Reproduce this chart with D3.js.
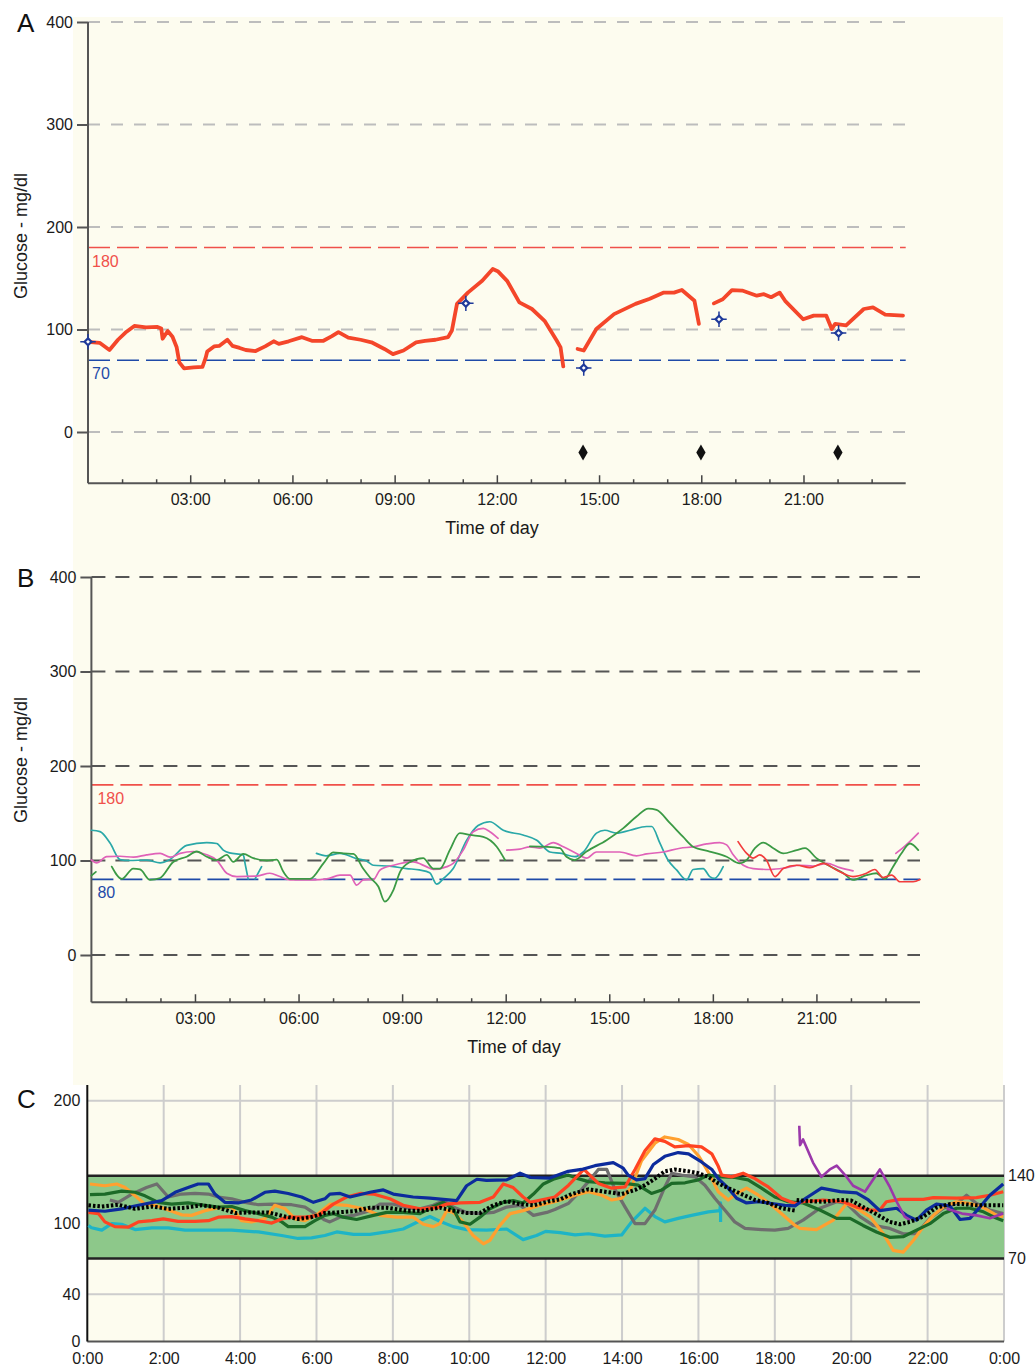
<!DOCTYPE html>
<html><head><meta charset="utf-8">
<script src="https://cdn.jsdelivr.net/npm/d3@7"></script>
<style>
body{margin:0;background:#fff}
svg{display:block;font-family:"Liberation Sans",Arial,sans-serif}
</style>
</head><body>
<svg id="chart" width="1035" height="1367"></svg>
<script>
// ---------------- DATA ----------------
// Panel A : single-day CGM trace [hour, mg/dl]
const cgmA1 = [[0,88],[0.34,87],[0.63,80],[0.88,90],[1.1,97],[1.36,103.5],[1.7,102],[2.04,102.5],[2.15,101],[2.19,91],[2.34,98.5],[2.48,93],[2.6,83],[2.68,68],[2.82,62],[3.1,63],[3.36,63.5],[3.45,72],[3.5,78.5],[3.7,83.5],[3.85,84],[4.09,90],[4.24,84],[4.45,82],[4.63,80],[4.92,79],[5.2,83.5],[5.45,88.5],[5.6,86],[5.89,88.5],[6.28,92.5],[6.57,89],[6.91,89],[7.16,93.5],[7.35,97.5],[7.64,92],[8.0,90],[8.32,87.5],[8.7,81],[8.95,76],[9.26,79.5],[9.63,87.5],[9.89,89],[10.2,90],[10.57,92.5],[10.68,99],[10.83,125],[11.15,136],[11.57,147.5],[11.88,159],[12.04,156.5],[12.3,147.5],[12.66,126.5],[13.03,120],[13.4,108.5],[13.76,89],[13.87,82.5],[13.95,64]];
const cgmA2 = [[14.37,81],[14.55,79.5],[14.92,100.5],[15.44,115],[16.07,125],[16.49,130],[16.9,136],[17.2,136],[17.43,138.5],[17.8,128],[17.93,105.5]];
const cgmA3 = [[18.37,125.5],[18.63,129.5],[18.9,138.5],[19.2,138],[19.63,133],[19.84,134.5],[20.05,131.5],[20.3,136],[20.46,128],[20.99,110],[21.3,113.5],[21.67,113.5],[21.83,100.5],[21.93,105.5],[22.25,104],[22.77,120],[23.04,121.5],[23.4,114.5],[23.92,113.5]];
const smbgA = [[0,88],[11.09,125.5],[14.55,62.5],[18.52,110],[22.03,96.5]];
const mealsA = [[14.53,-20],[17.99,-20],[22.01,-20]];
const targetsA = [{v:180,label:"180",color:"#f0504a"},{v:70,label:"70",color:"#1f4aa8"}];
const gridValsAB = [0,100,200,300,400];
const hourTicksMajor = [3,6,9,12,15,18,21];

// Panel B : overlaid days
const tealB1 = [[0,132],[0.25,130.5],[0.54,118.5],[0.83,101],[1.1,100],[1.6,100.5],[1.99,97.5],[2.25,100.5],[2.76,116],[3.34,119],[3.63,118],[3.82,111],[4.0,108],[4.4,106],[4.45,97],[4.54,80.5]];
const tealB2 = [[4.74,80.5],[4.93,93.5]];
const tealB3 = [[6.52,107.5],[6.8,105],[7.2,107.5],[7.68,102],[7.97,99.5],[8.16,95],[8.64,94],[9.13,91.5],[9.5,90],[9.8,87],[10.0,75],[10.2,81],[10.48,91.5],[10.87,121.5],[11.2,137],[11.54,141],[11.93,132],[12.5,127],[12.9,121.5],[13.28,109],[13.62,107.5],[14.0,104],[14.25,109],[14.63,129],[14.87,132],[15.21,129],[15.6,132],[16.08,136],[16.23,136],[16.47,118],[16.7,100.5],[16.95,90],[17.24,79.5],[17.43,90.5],[17.72,91.5],[17.91,83],[18.05,81],[18.3,93.5]];
const pinkB1 = [[0,100.5],[0.15,97.5],[0.44,104],[0.83,104.5],[1.22,103.5],[1.6,106],[1.99,107.5],[2.28,103.5],[2.57,107.5],[2.95,109.5],[3.34,106],[3.63,100.5],[3.92,86.5],[4.21,83],[4.79,83.5],[5.17,86.5],[5.46,83],[5.75,79.5],[6.43,79.5],[6.82,80.5],[7.2,84.5],[7.49,84.5],[7.68,74],[7.88,79.5],[8.17,80],[8.36,90],[8.75,95],[9.32,98.5],[9.7,93.5],[9.9,90.5],[10.3,93.5],[10.48,97],[10.77,111],[11.06,130.5],[11.35,134],[11.54,130.5],[11.78,123.5]];
const pinkB2 = [[12.03,111],[12.41,112],[12.7,114.5],[12.99,113],[13.38,119],[13.67,114.5],[14.05,107.5],[14.34,102.5],[14.63,109],[15.3,109],[15.79,105],[16.08,107],[16.56,109],[17.05,113],[17.43,114.5],[17.82,117.5],[18.2,119],[18.4,116.5],[18.59,106],[18.88,95],[19.17,91.5],[19.65,90.5],[20.14,92.5],[20.52,95],[20.9,94],[21.3,97],[21.68,92.5],[22.06,89]];
const pinkB3 = [[23.3,107.5],[23.6,116.5],[23.95,129]];
const greenB1 = [[0,84],[0.13,88]];
const greenB2 = [[0.59,93.5],[0.88,80.5],[1.21,91.5],[1.41,90.5],[1.7,79.5],[1.99,81.5],[2.37,98.5],[2.76,104],[3.05,109.5],[3.34,104],[3.63,100.5],[3.92,106],[4.11,98.5],[4.4,107],[4.69,102.5],[5.08,100],[5.37,101],[5.56,88],[5.75,80.5],[6.33,80.5],[6.72,97],[7.0,108.5],[7.3,107.5],[7.59,107],[7.87,91.5],[8.07,82],[8.31,72.5],[8.5,56.5],[8.75,69],[8.94,88],[9.23,98.5],[9.61,102.5],[9.9,91.5],[10.1,91.5],[10.38,111],[10.67,129],[10.96,127],[11.35,125],[11.74,114.5],[11.98,100.5]];
const greenB3 = [[12.7,115],[13.19,114.5],[13.57,113],[13.76,104],[14.0,100.5],[14.34,109.5],[14.92,121.5],[15.4,134],[15.79,146.5],[16.13,155],[16.37,153.5],[16.76,139.5],[17.14,125],[17.43,114.5],[17.91,109.5],[18.4,104],[18.78,97],[18.98,100.5],[19.22,113],[19.46,119],[19.75,113],[20.04,107.5],[20.43,111],[20.67,113],[21.0,102.5],[21.39,94],[21.78,86.5],[22.06,79.5],[22.45,84.5],[22.74,86.5],[22.98,80.5],[23.22,93.5],[23.46,107.5],[23.71,118],[23.95,111]];
const redB1 = [[18.73,120],[18.98,107.5],[19.17,102.5],[19.36,106],[19.55,100.5],[19.8,83],[20.04,91.5],[20.43,95],[20.81,92.5],[21.2,97],[21.58,90],[22.06,83],[22.45,86.5],[22.69,90.5],[22.93,82],[23.18,84.5],[23.42,77.5],[23.8,77.5],[24.0,80]];
const targetsB = [{v:180,label:"180",color:"#f0504a"},{v:80,label:"80",color:"#1f4aa8"}];

// Panel C : ambulatory profile
const blueC = [[0.03,111],[0.46,110],[0.9,112],[1.34,115],[1.95,119],[2.3,126],[2.64,130],[2.9,133],[3.17,133],[3.34,124.5],[3.6,117.5],[3.95,117],[4.3,119.5],[4.65,126],[4.91,127],[5.26,125],[5.61,122],[5.92,117.5],[6.22,120.5],[6.35,124.5],[6.62,125],[6.88,122],[7.4,126],[7.75,128],[8.01,124.5],[8.53,122],[8.97,121],[9.67,119],[9.93,131.5],[10.2,137],[10.45,136],[10.98,136.5],[11.33,142],[11.6,138.5],[12.11,138],[12.59,143.5],[12.94,145],[13.29,148],[13.77,150.5],[14.03,146],[14.16,140.5],[14.38,136.5],[14.6,137.5],[14.82,149],[15.12,155.5],[15.47,158.5],[15.74,157.5],[16.08,151],[16.35,145],[16.52,137.5],[16.78,129.5],[17.0,121],[17.26,117],[17.57,118],[17.92,116.5],[18.26,115],[18.53,114.5],[18.74,119.5],[19.22,129.5],[19.71,126.5],[20.14,125.5],[20.45,119.5],[20.75,110.5],[21.19,112.5],[21.45,106.5],[21.71,102.5],[21.97,111],[22.23,116],[22.58,114.5],[22.85,103],[23.11,104],[23.37,113.5],[23.63,123.5],[23.98,133]];
const redC = [[0.03,109],[0.29,108],[0.46,101],[0.72,97],[1.07,96.5],[1.34,101],[1.69,102],[1.99,103.5],[2.38,101.5],[2.82,101.5],[3.17,102],[3.43,105],[3.78,105.5],[4.13,103.5],[4.48,102],[4.83,100],[5.09,103.5],[5.35,105],[5.7,105],[6.05,106.5],[6.44,116],[6.79,122],[7.14,125],[7.49,124.5],[7.92,120.5],[8.27,115],[8.71,112],[9.15,113],[9.41,116],[9.76,117],[10.28,117.5],[10.63,122],[10.89,133],[11.15,130],[11.41,122],[11.59,117.5],[12.03,120.5],[12.24,122],[12.6,132],[13.0,145],[13.38,133.5],[13.73,129.5],[14.08,130.5],[14.34,145],[14.6,160],[14.86,169.5],[15.12,167.5],[15.38,163],[15.74,164],[16.08,163],[16.35,157.5],[16.52,147.5],[16.61,140.5],[16.87,139],[17.17,142],[17.48,137.5],[17.83,130.5],[18.18,121],[18.53,116.5],[18.74,118],[19.27,119.5],[19.79,118],[20.14,113.5],[20.49,111],[20.75,111],[20.92,118],[21.28,120],[21.89,120],[22.15,121.5],[22.76,121],[23.28,121.5],[23.63,123.5],[23.98,126.5]];
const orangeC = [[0.07,133],[0.46,131.5],[0.77,133],[0.99,130],[1.25,123],[1.51,116],[1.77,115],[2.03,112],[2.47,107],[2.73,106.5],[3.08,110.5],[3.43,113],[3.78,113.5],[4.04,102],[4.3,101],[4.65,103.5],[4.91,115],[5.18,112],[5.44,103.5],[5.7,102],[6.05,108],[6.35,116],[6.79,115],[7.23,112],[7.66,106.5],[8.1,105],[8.53,105],[8.8,99],[9.06,97],[9.23,99.5],[9.41,110.5],[9.58,109],[9.84,101],[10.1,89.5],[10.37,82.5],[10.54,85.5],[10.8,98],[11.07,108],[11.41,110.5],[11.85,115],[12.24,118],[12.77,123.5],[13.12,126.5],[13.47,123.5],[13.73,119.5],[13.99,121],[14.25,130.5],[14.51,152],[14.86,166],[15.12,171],[15.47,169],[15.74,165],[16.0,156],[16.17,147.5],[16.35,137.5],[16.52,126.5],[16.78,119.5],[17.0,125],[17.26,129.5],[17.57,123.5],[17.92,115],[18.26,105.5],[18.53,98],[18.66,95.5],[19.09,94.5],[19.53,102.5],[19.88,116.5],[20.14,112.5],[20.49,105.5],[20.84,91],[21.1,77],[21.36,75.5],[21.63,85.5],[21.89,97],[22.15,106.5],[22.41,113.5],[22.76,118],[23.11,116.5],[23.46,113],[23.81,106.5],[23.98,105.5]];
const grayC = [[0.59,119.5],[0.81,117.5],[1.2,125],[1.55,130],[1.82,133],[2.12,122],[2.47,124.5],[2.82,125],[3.17,124.5],[3.43,122],[3.78,120.5],[4.13,117.5],[4.48,115.5],[4.83,116],[5.35,115.5],[5.7,113.5],[5.96,108],[6.22,102.5],[6.35,101],[6.62,105],[6.97,106.5],[7.4,110.5],[7.66,116],[8.01,116],[8.36,113],[8.71,112],[9.06,115],[9.32,119],[9.58,113.5],[9.93,109],[10.28,108],[10.63,109],[10.98,113.5],[11.33,115],[11.68,106.5],[12.03,109],[12.24,111.5],[12.59,116.5],[12.85,125],[13.12,135],[13.38,145],[13.6,145],[13.82,128],[14.08,113.5],[14.34,99.5],[14.6,99.5],[14.86,111],[15.12,130.5],[15.3,142],[15.56,140.5],[15.91,139],[16.17,132],[16.43,121],[16.69,111],[16.95,101],[17.22,95.5],[17.65,94.5],[18.0,94],[18.35,95.5],[18.74,102.5],[19.18,112.5],[19.62,118],[19.88,116.5],[20.23,105.5],[20.58,98],[21.01,95.5],[21.36,91],[21.71,91],[22.06,104],[22.41,112.5],[22.76,116.5],[23.02,123.5],[23.28,116.5],[23.63,111],[23.98,108]];
const greenC = [[0.07,124],[0.46,124.5],[0.9,127],[1.25,126],[1.51,123],[1.86,117.5],[2.21,116],[2.64,117],[3.08,115],[3.43,113.5],[3.78,114],[4.13,110.5],[4.48,108],[4.83,105],[5.09,101],[5.26,97],[5.7,97],[5.96,102],[6.22,106.5],[6.44,108],[6.7,105],[7.05,103],[7.49,106.5],[7.84,109],[8.27,109],[8.71,108],[9.06,114],[9.32,117.5],[9.58,112],[9.76,101],[10.02,99],[10.28,105],[10.54,112],[10.89,117.5],[11.15,119],[11.41,117],[11.68,124.5],[11.94,133],[12.2,137],[12.59,140.5],[12.85,137.5],[13.12,135],[13.55,134],[14.08,133.5],[14.42,132],[14.77,125],[15.04,128],[15.3,133.5],[15.65,134],[16.0,136.5],[16.26,140.5],[16.61,139],[16.96,138.5],[17.3,136.5],[17.65,129.5],[18.0,122],[18.35,118],[18.74,117],[19.18,111],[19.62,104],[19.97,104],[20.31,98],[20.66,92.5],[21.01,88],[21.36,88.5],[21.71,94],[22.06,99.5],[22.41,108],[22.76,112.5],[23.11,112.5],[23.46,109.5],[23.81,104],[23.98,102]];
const cyanC = [[0.03,98],[0.11,96],[0.38,94],[0.64,99.5],[0.9,99],[1.25,94.5],[1.69,96],[2.12,96],[2.56,94],[3.26,94],[3.78,94],[4.48,92.5],[5.09,89.5],[5.52,87],[5.87,87.5],[6.22,89.5],[6.53,92.5],[6.97,90.5],[7.4,90.5],[7.84,92.5],[8.27,95],[8.71,102],[8.97,105.5],[9.23,101.5],[9.58,97],[9.93,94.5],[10.45,94],[10.98,95],[11.41,86],[11.76,89.5],[12.0,93],[12.38,92],[12.77,90],[13.12,91],[13.55,89],[13.99,90],[14.25,101],[14.6,112.5],[14.86,105.5],[15.12,101],[15.47,104],[15.82,106.5],[16.26,109.5],[16.56,110.5],[16.58,117],[16.58,101]];
const purpleC1 = [[18.64,180],[18.66,164.5],[18.74,169],[19.0,150.5],[19.22,139],[19.44,145],[19.62,148],[19.84,140.5],[20.05,131.5],[20.36,126.5],[20.75,145],[21.01,130.5],[21.19,118],[21.4,105.5],[21.54,102.5]];
const purpleC2 = [[22.5,112],[22.9,108],[23.28,106.5],[23.63,104],[23.98,108]];
const medianC1 = [[0.03,115],[0.38,114],[0.81,115.5],[1.25,112],[1.69,114],[2.12,112],[2.56,113],[3.0,115],[3.43,113],[3.87,108.5],[4.3,109],[4.74,109],[5.18,105.5],[5.52,103.5],[5.87,105],[6.22,108.5],[6.53,109],[6.97,110],[7.4,113],[7.84,113],[8.36,110.5],[8.8,110.5],[9.23,113],[9.58,110.5],[9.93,108.5],[10.28,108.5],[10.63,115],[10.98,118.5],[11.33,116],[11.68,115],[12.11,118.5],[12.38,120],[12.68,124.5],[13.12,128.5],[13.55,126.5],[13.99,124.5],[14.34,128],[14.6,132],[14.86,137.5],[15.12,143.5],[15.38,145],[15.74,143.5],[16.0,142],[16.26,139],[16.52,133.5],[16.78,129.5],[17.13,124.5],[17.48,119.5],[17.83,117],[18.18,112.5],[18.53,110.5]];
const medianC2 = [[18.57,119.5],[18.9,118.5],[19.27,118],[19.7,119.5],[20.0,119],[20.31,113.5],[20.66,107.5],[21.01,101],[21.28,99],[21.54,101],[21.89,105.5],[22.23,113],[22.58,116],[22.93,116],[23.28,115],[23.63,115],[23.98,115]];
const bandC = {lo:70, hi:140};
const yTicksC = [0,40,100,200];
const gridYC = [40,200];
const xTicksC = [0,2,4,6,8,10,12,14,16,18,20,22,24];

// ---------------- DRAW ----------------
const svg = d3.select("#chart");
const FONT = 16;

svg.append("rect").attr("x",73).attr("y",17).attr("width",930).attr("height",1068).attr("fill","#fdfcef");

function hhmm(h){ return String(h).padStart(2,"0")+":00"; }
function styleAxis(g, color, width){
  g.select(".domain").remove();
  g.selectAll(".tick line").attr("stroke",color).attr("stroke-width",width);
  g.selectAll(".tick text").attr("fill","#1a1a1a").style("font-size",FONT+"px").style("font-family","Liberation Sans, Arial, sans-serif");
}
function path(g, data, x, y, color, w, opts){
  opts = opts||{};
  return g.append("path").datum(data)
    .attr("d", d3.line().x(d=>x(d[0])).y(d=>y(d[1])).curve(opts.curve||d3.curveLinear))
    .attr("fill","none").attr("stroke",color).attr("stroke-width",w)
    .attr("stroke-linejoin","round").attr("stroke-linecap",opts.cap||"round")
    .attr("stroke-dasharray",opts.dash||null);
}

function dayPanel(cfg){
  const g = svg.append("g");
  const x = cfg.x, y = cfg.y;
  gridValsAB.forEach(v=>{
    g.append("line").attr("x1",x(0)).attr("x2",x(24)).attr("y1",y(v)).attr("y2",y(v))
      .attr("stroke",cfg.gridColor).attr("stroke-width",cfg.gridW).attr("stroke-dasharray",cfg.gridDash);
  });
  cfg.targets.forEach(t=>{
    g.append("line").attr("x1",x(0)).attr("x2",x(24)).attr("y1",y(t.v)).attr("y2",y(t.v))
      .attr("stroke",t.color).attr("stroke-width",1.7).attr("stroke-dasharray","22,7");
    g.append("text").attr("x",x(0)+cfg.tlx).attr("y",y(t.v)+19).attr("fill",t.color)
      .style("font-size","16px").text(t.label);
  });
  g.append("line").attr("x1",x(0)).attr("x2",x(0)).attr("y1",y(400)).attr("y2",y(-50)).attr("stroke","#555").attr("stroke-width",2);
  g.append("line").attr("x1",x(0)).attr("x2",x(24)).attr("y1",y(-50)).attr("y2",y(-50)).attr("stroke","#555").attr("stroke-width",2);
  const ya = g.append("g").attr("transform",`translate(${x(0)},0)`)
    .call(d3.axisLeft(y).tickValues(gridValsAB).tickSize(11).tickPadding(4));
  styleAxis(ya,"#555",2);
  const minor = d3.range(1,24).filter(h=>h%3!==0);
  const xm = g.append("g").attr("transform",`translate(0,${y(-50)})`)
    .call(d3.axisBottom(x).tickValues(minor).tickSize(-4).tickFormat(""));
  styleAxis(xm,"#444",1.5);
  const xa = g.append("g").attr("transform",`translate(0,${y(-50)})`)
    .call(d3.axisBottom(x).tickValues(hourTicksMajor).tickSize(-8).tickPadding(10).tickFormat(hhmm));
  styleAxis(xa,"#444",1.5);
  g.append("text").attr("x",cfg.titleX).attr("y",y(-50)+51).attr("text-anchor","middle")
    .style("font-size","18px").attr("fill","#1a1a1a").text("Time of day");
  g.append("text").attr("transform",`translate(27,${cfg.ylabY}) rotate(-90)`).attr("text-anchor","middle")
    .style("font-size","18px").attr("fill","#1a1a1a").text("Glucose - mg/dl");
  g.append("text").attr("x",17).attr("y",y(400)+10).style("font-size","26px").attr("fill","#111").text(cfg.letter);
  return g;
}

// Panel A
const xA = d3.scaleLinear().domain([0,24]).range([88,905.7]);
const yA = d3.scaleLinear().domain([-50,400]).range([483.25,22]);
const gA = dayPanel({x:xA,y:yA,gridColor:"#bdbdbd",gridW:2,gridDash:"12,11",targets:targetsA,tlx:4,titleX:492,ylabY:236,letter:"A"});
[cgmA1,cgmA2,cgmA3].forEach(s=>path(gA,s,xA,yA,"#f4462a",3.8));
gA.selectAll(".meal").data(mealsA).join("path").attr("class","meal")
  .attr("transform",d=>`translate(${xA(d[0])},${yA(d[1])})`)
  .attr("d",d3.symbol(d3.symbolDiamond,75)).attr("fill","#111");
gA.selectAll(".smbgx").data(smbgA).join("path").attr("class","smbgx")
  .attr("transform",d=>`translate(${xA(d[0])},${yA(d[1])})`)
  .attr("d",d3.symbol(d3.symbolPlus,80)).attr("fill","none").attr("stroke","#1f3a9a").attr("stroke-width",1.5);
gA.selectAll(".smbg").data(smbgA).join("path").attr("class","smbg")
  .attr("transform",d=>`translate(${xA(d[0])},${yA(d[1])})`)
  .attr("d",d3.symbol(d3.symbolDiamond2,30)).attr("fill","#fff").attr("stroke","#1f3a9a").attr("stroke-width",2.2);

// Panel B
const xB = d3.scaleLinear().domain([0,24]).range([91.4,920]);
const yB = d3.scaleLinear().domain([-50,400]).range([1002.25,577]);
const gB = dayPanel({x:xB,y:yB,gridColor:"#555",gridW:2.2,gridDash:"14,10",targets:targetsB,tlx:6,titleX:514,ylabY:760,letter:"B"});
const cB = d3.curveMonotoneX;
[tealB1,tealB2,tealB3].forEach(s=>path(gB,s,xB,yB,"#2aa8a8",1.7,{curve:cB}));
[pinkB1,pinkB2,pinkB3].forEach(s=>path(gB,s,xB,yB,"#e062b8",1.7,{curve:cB}));
[greenB1,greenB2,greenB3].forEach(s=>path(gB,s,xB,yB,"#3b9a45",1.8,{curve:cB}));
[redB1].forEach(s=>path(gB,s,xB,yB,"#f23c3c",1.7,{curve:cB}));

// Panel C
const xC = d3.scaleLinear().domain([0,24]).range([87.3,1004]);
const yC = d3.scaleLinear().domain([0,140,200]).range([1341.5,1175.7,1100.7]);
const gC = svg.append("g");
gC.append("rect").attr("x",xC(0)).attr("y",1085).attr("width",xC(24)-xC(0)).attr("height",yC(0)-1085).attr("fill","#fdfcef");
xTicksC.slice(1).forEach(h=>{
  gC.append("line").attr("x1",xC(h)).attr("x2",xC(h)).attr("y1",1085).attr("y2",yC(0)).attr("stroke","#cdcdcd").attr("stroke-width",2);
});
gridYC.forEach(v=>{
  gC.append("line").attr("x1",xC(0)).attr("x2",xC(24)).attr("y1",yC(v)).attr("y2",yC(v)).attr("stroke","#cdcdcd").attr("stroke-width",2);
});
gC.append("rect").attr("x",xC(0)).attr("y",yC(bandC.hi)).attr("width",xC(24)-xC(0)).attr("height",yC(bandC.lo)-yC(bandC.hi)).attr("fill","#8dc88a");
[bandC.hi,bandC.lo].forEach(v=>{
  gC.append("line").attr("x1",xC(0)).attr("x2",xC(24)).attr("y1",yC(v)).attr("y2",yC(v)).attr("stroke","#222").attr("stroke-width",2.5);
});
gC.append("line").attr("x1",xC(0)).attr("x2",xC(24)).attr("y1",yC(0)).attr("y2",yC(0)).attr("stroke","#555").attr("stroke-width",2);
gC.append("line").attr("x1",xC(0)).attr("x2",xC(0)).attr("y1",1085).attr("y2",yC(0)).attr("stroke","#111").attr("stroke-width",2);
const lw = 3.2;
path(gC,cyanC,xC,yC,"#1eb4c6",lw,{cap:"butt"});
path(gC,grayC,xC,yC,"#6e6e6e",lw,{cap:"butt"});
path(gC,orangeC,xC,yC,"#ffa030",lw,{cap:"butt"});
path(gC,greenC,xC,yC,"#1c6a28",lw,{cap:"butt"});
path(gC,redC,xC,yC,"#ff4322",lw,{cap:"butt"});
path(gC,blueC,xC,yC,"#0c2b9c",lw,{cap:"butt"});
[purpleC1,purpleC2].forEach(s=>path(gC,s,xC,yC,"#9a38aa",2.6,{cap:"butt"}));
[medianC1,medianC2].forEach(s=>path(gC,s,xC,yC,"#000",4,{cap:"butt",dash:"2.5,2"}));
const ycAx = gC.append("g").attr("transform",`translate(${xC(0)},0)`)
  .call(d3.axisLeft(yC).tickValues(yTicksC).tickSize(0).tickPadding(7));
styleAxis(ycAx,"#000",0);
const ycR = gC.append("g").attr("transform",`translate(${xC(24)},0)`)
  .call(d3.axisRight(yC).tickValues([bandC.lo,bandC.hi]).tickSize(0).tickPadding(4));
styleAxis(ycR,"#000",0);
const xcAx = gC.append("g").attr("transform",`translate(0,${yC(0)})`)
  .call(d3.axisBottom(xC).tickValues(xTicksC).tickSize(0).tickPadding(11).tickFormat(h=>(h%24)+":00"));
styleAxis(xcAx,"#000",0);
gC.append("text").attr("x",17).attr("y",1108).style("font-size","26px").attr("fill","#111").text("C");
</script>
</body></html>
